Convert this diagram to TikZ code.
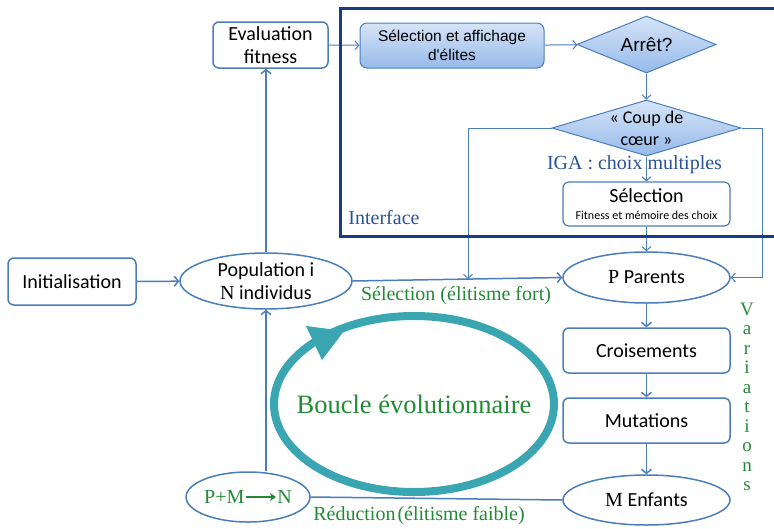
\documentclass[tikz,border=0pt]{standalone}
\usepackage{fontspec}
\setmainfont{Liberation Serif}
\newfontfamily\calfont{Carlito}
\newfontfamily\arialfont{Liberation Sans}
\usetikzlibrary{shapes.geometric,arrows.meta}

\definecolor{lineblue}{RGB}{74,126,187}
\definecolor{framenavy}{RGB}{24,60,135}
\definecolor{txtblue}{RGB}{42,82,150}
\definecolor{evogreen}{RGB}{34,138,52}
\definecolor{loopteal}{RGB}{58,166,178}
\definecolor{shadetop}{RGB}{214,228,247}
\definecolor{shadebot}{RGB}{150,186,234}

\tikzset{
  stepbox/.style={draw=lineblue, line width=1.5pt, rounded corners=6pt, fill=white,
    align=center, inner sep=0pt, font=\calfont\fontsize{20}{23}\selectfont},
  oval/.style={ellipse, draw=lineblue, line width=1.5pt, fill=white, align=center,
    inner sep=0pt, font=\calfont\fontsize{20}{23}\selectfont},
  shadedbox/.style={draw=lineblue, line width=1pt, rounded corners=7pt,
    top color=shadetop, bottom color=shadebot, align=center, inner sep=0pt},
  decision/.style={diamond, draw=lineblue, line width=1pt, top color=shadetop,
    bottom color=shadebot, align=center, inner sep=0pt},
  flow/.style={draw=lineblue, line width=1.5pt, -{Straight Barb[length=4pt,width=10pt]}},
  thinflow/.style={draw=lineblue, line width=1pt, -{Straight Barb[length=4pt,width=9pt]}},
  greenlbl/.style={text=evogreen, font=\fontsize{20}{22}\selectfont, inner sep=0pt},
  bluelbl/.style={text=txtblue, font=\fontsize{20}{22}\selectfont, inner sep=0pt},
}

\begin{document}
\begin{tikzpicture}[x=1pt,y=-1pt]
\useasboundingbox (0,0) rectangle (774,528);
\clip (0,0) rectangle (774,528);

% evolutionary loop
\draw[loopteal, line width=8pt] (414,404) ellipse [x radius=140pt, y radius=88pt];
\fill[loopteal] (306,326) -- (344,331) -- (322,360) -- cycle;
\node[text=evogreen, font=\fontsize{26.5}{28}\selectfont, inner sep=0pt] (boucle) at (414,404) {Boucle évolutionnaire};

% main flow nodes
\node[stepbox, minimum width=115pt, minimum height=46pt] (eval) at (270.5,45) {Evaluation\\fitness};
\node[stepbox, minimum width=128pt, minimum height=47pt] (init) at (72,281.5) {Initialisation};
\node[oval, minimum width=172pt, minimum height=56pt] (pop) at (266,281) {Population i\\{\rmfamily N} individus};
\node[oval, minimum width=167pt, minimum height=51pt] (par) at (646.5,277.5) {{\rmfamily P} Parents};
\node[stepbox, minimum width=167pt, minimum height=45pt] (crois) at (646.5,350.5) {Croisements};
\node[stepbox, minimum width=167pt, minimum height=45pt] (mut) at (646.5,420.5) {Mutations};
\node[oval, minimum width=167pt, minimum height=50pt] (enf) at (646.5,500) {{\rmfamily M} Enfants};
\node[oval, minimum width=116pt, minimum height=50pt, text=evogreen, font=\fontsize{20}{22}\selectfont] (pm) at (248,497) {P+M\hspace{33pt}N};
\draw[evogreen, line width=1.8pt, -{Stealth[length=6pt,width=8pt]}] ([xshift=-2pt]pm.center) -- ([xshift=28pt]pm.center);

% interface nodes
\node[shadedbox, minimum width=184pt, minimum height=45pt, font=\arialfont\fontsize{15.5}{19}\selectfont] (elite) at (452,45.5) {Sélection et affichage\\d'élites};
\node[decision, aspect=2.44, minimum width=139pt, minimum height=57pt, font=\arialfont\fontsize{19}{22}\selectfont] (stop) at (646.5,44.5) {Arrêt?};
\node[decision, aspect=3.375, minimum width=189pt, minimum height=56pt,
  label={[font=\calfont\fontsize{18}{22}\selectfont, align=center, inner sep=0pt]center:« Coup de\\cœur »}] (coup) at (646.5,128) {};
\node[stepbox, line width=1.2pt, minimum width=167pt, minimum height=44pt, font=\calfont\fontsize{20}{17}\selectfont] (sel) at (646.5,204) {Sélection\\{\fontsize{12}{14}\selectfont Fitness et mémoire des choix}};
\coordinate (tap) at (468,279);

% labels
\node[bluelbl] (iga) at (634.5,165) {IGA : choix multiples};
\node[bluelbl] (iface) at (384,218) {Interface};
\node[greenlbl] (lblsel) at (456,296) {Sélection (élitisme fort)};
\node[greenlbl] (lblred) at (419,516) {Réduction\hspace{2pt}(élitisme faible)};
\node[greenlbl, align=center, font=\fontsize{19}{19.5}\selectfont] (var) at (747,397) {V\\a\\r\\i\\a\\t\\i\\o\\n\\s};

% connectors
\draw[flow] (init) -- (pop);
\draw[flow] (pop.north) -- (pop.north |- eval.south);
\draw[thinflow] (eval) -- (elite);
\draw[thinflow] (elite) -- (stop);
\draw[thinflow] (stop) -- (coup);
\draw[thinflow] (coup) -- (sel);
\draw[thinflow] (sel) -- (par);
\draw[thinflow] (coup.west) -| (tap);
\draw[thinflow] (coup.east) -- ++(21,0) |- (par.east);
\draw[flow] (pop.east) -- (par.west);
\draw[flow] (par) -- (crois);
\draw[flow] (crois) -- (mut);
\draw[flow] (mut) -- (enf);
\draw[draw=lineblue, line width=1.5pt] (enf.west) -- (pm.east);
\draw[flow] (pop.south |- pm.north) -- (pop.south);

% interface frame
\draw[framenavy, line width=3pt] (340,8) rectangle (790,236);
\end{tikzpicture}
\end{document}
